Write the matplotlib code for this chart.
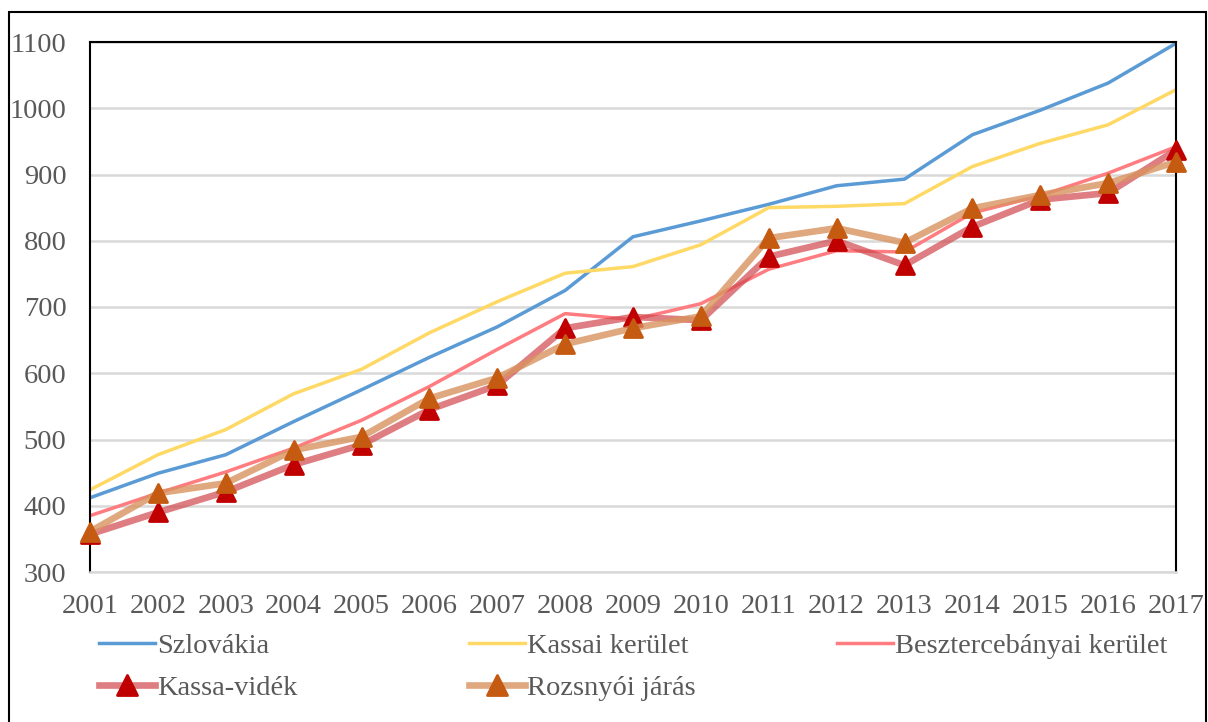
import matplotlib
matplotlib.use("Agg")
import matplotlib.pyplot as plt
from matplotlib.colors import to_rgba
from matplotlib.lines import Line2D
from matplotlib.markers import MarkerStyle
from matplotlib.patches import Rectangle

# data
years = list(range(2001, 2018))
szlovakia = [412, 449, 477, 527, 575, 624, 670, 725, 806, 830, 855, 883, 893, 960, 997, 1038, 1098]
kassai = [424, 477, 515, 569, 606, 661, 708, 751, 761, 794, 850, 852, 856, 912, 947, 975, 1028]
beszterce = [385, 419, 451, 487, 529, 580, 636, 690, 681, 705, 757, 785, 783, 842, 868, 902, 942]
kassa_videk = [357, 390, 421, 462, 492, 545, 582, 668, 685, 680, 776, 800, 763, 821, 862, 872, 937]
rozsnyo = [361, 419, 434, 484, 504, 562, 593, 644, 668, 686, 804, 819, 797, 849, 869, 887, 919]
labels = ["Szlovákia", "Kassai kerület", "Besztercebányai kerület", "Kassa-vidék", "Rozsnyói járás"]

plt.rcParams["font.family"] = ["Liberation Serif", "DejaVu Serif"]
TXT = "#595959"
FS = 20.5
MS = 13.5
TRI = MarkerStyle("^", joinstyle="round")

W, H = 1208, 722
fig = plt.figure(figsize=(W / 100, H / 100), dpi=100)
ax = fig.add_axes([90 / W, 1 - 572 / H, (1176 - 90) / W, (572 - 42) / H])

h1, = ax.plot(years, szlovakia, color="#5B9BD5", lw=2.5, solid_capstyle="round")
h2, = ax.plot(years, kassai, color="#FFD966", lw=2.5, solid_capstyle="round")
h3, = ax.plot(years, beszterce, color="#FF7C80", lw=2.5, solid_capstyle="round")
h4, = ax.plot(years, kassa_videk, color=to_rgba("#D0484D", 0.7), lw=4.8,
              marker=TRI, ms=MS, mfc="#C00000", mec="#C00000", mew=2,
              solid_joinstyle="round", clip_on=False, zorder=4)
h5, = ax.plot(years, rozsnyo, color=to_rgba("#D9935F", 0.8), lw=4.8,
              marker=TRI, ms=MS, mfc="#C55A11", mec="#C55A11", mew=2,
              solid_joinstyle="round", clip_on=False, zorder=5)

ax.set_xlim(2001, 2017)
ax.set_ylim(300, 1100)
ax.set_yticks(range(300, 1101, 100))
ax.set_xticks(years)
ax.grid(axis="y", color="#D9D9D9", lw=1.8)
ax.set_axisbelow(True)
ax.tick_params(length=0, labelsize=FS, colors=TXT)
ax.tick_params(axis="x", pad=16)
ax.tick_params(axis="y", pad=17)
for s in ["left", "top", "right"]:
    ax.spines[s].set_color("black")
    ax.spines[s].set_linewidth(1.5)
ax.spines["bottom"].set_color("#D9D9D9")
ax.spines["bottom"].set_linewidth(1.8)


# legend laid out in three columns like the original
def leg_handle(h):
    return Line2D([], [], color=h.get_color(), lw=h.get_linewidth(),
                  marker=TRI if h.get_marker() != "None" else None, ms=MS + 1,
                  mfc=h.get_mfc(), mec=h.get_mec(), mew=2)


cols = [([h1, h4], [labels[0], labels[3]], 99),
        ([h2, h5], [labels[1], labels[4]], 469),
        ([h3], [labels[2]], 837)]
for hs, ls, x in cols:
    fig.legend([leg_handle(h) for h in hs], ls, loc="upper left",
               bbox_to_anchor=(x / W, 1 - 633 / H), frameon=False, fontsize=FS,
               labelcolor=TXT, handlelength=1.95, handletextpad=0.1,
               borderpad=0, borderaxespad=0, labelspacing=0.55)

fig.add_artist(Rectangle((9 / W, -0.01), (1206 - 9) / W, 1 - 12 / H + 0.01,
                         transform=fig.transFigure, fill=False, ec="black", lw=1.5))

fig.savefig("out.png", dpi=100)
